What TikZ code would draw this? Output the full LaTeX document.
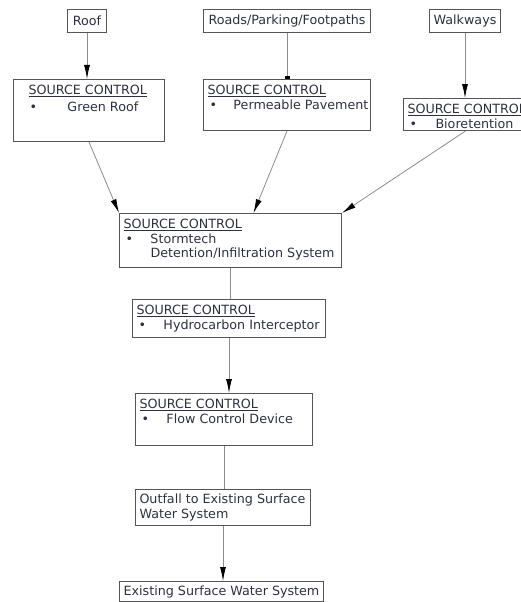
\documentclass[tikz,border=0pt]{standalone}
\usepackage{fontspec}
\setmainfont{DejaVu Sans}
\usetikzlibrary{arrows.meta}

\definecolor{boxgray}{HTML}{555555}
\definecolor{linegray}{HTML}{8C8C8C}
\definecolor{textnavy}{HTML}{2E3040}

% top aligned text of a control box: width, height, lines
\newcommand{\ctrltext}[3]{\parbox[t][#2][t]{#1}{\raggedright\rule{0pt}{15pt}#3}}
\newcommand{\ctrlhead}{\underline{SOURCE CONTROL}}
\newcommand{\ctrlitem}[2]{\mbox{\makebox[#1][l]{\hspace*{2pt}\textbullet}#2}}

\tikzset{
    box/.style={draw=boxgray, line width=1pt, anchor=north west, inner xsep=4pt, inner ysep=0pt,
        text=textnavy, font=\fontsize{12.7}{14.5}\selectfont},
    plainbox/.style={box, inner sep=0pt, align=center},
    link/.style={draw=linegray, line width=0.8pt},
    linkarrow/.style={link, -{Latex[length=14pt,width=6pt,color=black]}}
}

\begin{document}
\begin{tikzpicture}[x=1pt, y=-1pt]
    \useasboundingbox (0,0) rectangle (521,602);
    \clip (0,0) rectangle (521,602);

    % Sources
    \node[plainbox, minimum width=39pt, minimum height=23pt] (roof) at (67,9) {Roof};
    \node[plainbox, minimum width=167pt, minimum height=23pt] (roads) at (203,9) {Roads/Parking/Footpaths};
    \node[plainbox, minimum width=71pt, minimum height=23pt] (walk) at (429,9) {Walkways};

    % First controls
    \node[box] (green) at (13,79) {\ctrltext{143pt}{62pt}{\hspace*{11pt}\ctrlhead\\[2.5pt]
        \makebox[50pt][l]{\hspace*{12pt}\textbullet}Green Roof}};
    \node[box] (perm) at (203,79) {\ctrltext{159pt}{51pt}{\ctrlhead\\
        \ctrlitem{26pt}{Permeable Pavement}}};
    \node[box] (bio) at (403,98) {\ctrltext{116pt}{32pt}{\ctrlhead\\
        \ctrlitem{28pt}{Bioretention}}};

    % Main train
    \node[box] (storm) at (119,213) {\ctrltext{214pt}{54pt}{\ctrlhead\\
        \ctrlitem{27pt}{Stormtech}\\
        \hspace*{27pt}Detention/Infiltration System}};
    \node[box] (hydro) at (132,299) {\ctrltext{185pt}{38pt}{\ctrlhead\\
        \ctrlitem{27pt}{Hydrocarbon Interceptor}}};
    \node[box] (flow) at (135,393) {\ctrltext{169pt}{52pt}{\ctrlhead\\
        \ctrlitem{27pt}{Flow Control Device}}};
    \node[box] (outfall) at (135,489) {\parbox[t][36pt][t]{167pt}{\raggedright\rule{0pt}{14pt}Outfall to Existing Surface\\Water System}};
    \node[plainbox, minimum width=204pt, minimum height=20pt] (exist) at (119,581) {Existing Surface Water System};

    % Connectors
    \draw[linkarrow] (roof.south) -- (roof.south |- green.north);
    \draw[link, -{Rectangle[length=3pt,width=5pt,color=black]}] (roads.south) -- (roads.south |- perm.north);
    \draw[linkarrow] (walk.south) -- (walk.south |- bio.north);

    \draw[linkarrow] (green.south) -- (storm.north west);
    \draw[linkarrow] (perm.south) -- ([xshift=23pt]storm.north);
    \draw[linkarrow] (bio.south) -- (storm.north east);

    \draw[link] (storm.south) -- (storm.south |- hydro.north);
    \draw[linkarrow] (hydro.south) -- (hydro.south |- flow.north);
    \draw[link] (flow.south) -- (flow.south |- outfall.north);
    \draw[linkarrow] (outfall.south) -- (outfall.south |- exist.north);
\end{tikzpicture}
\end{document}
